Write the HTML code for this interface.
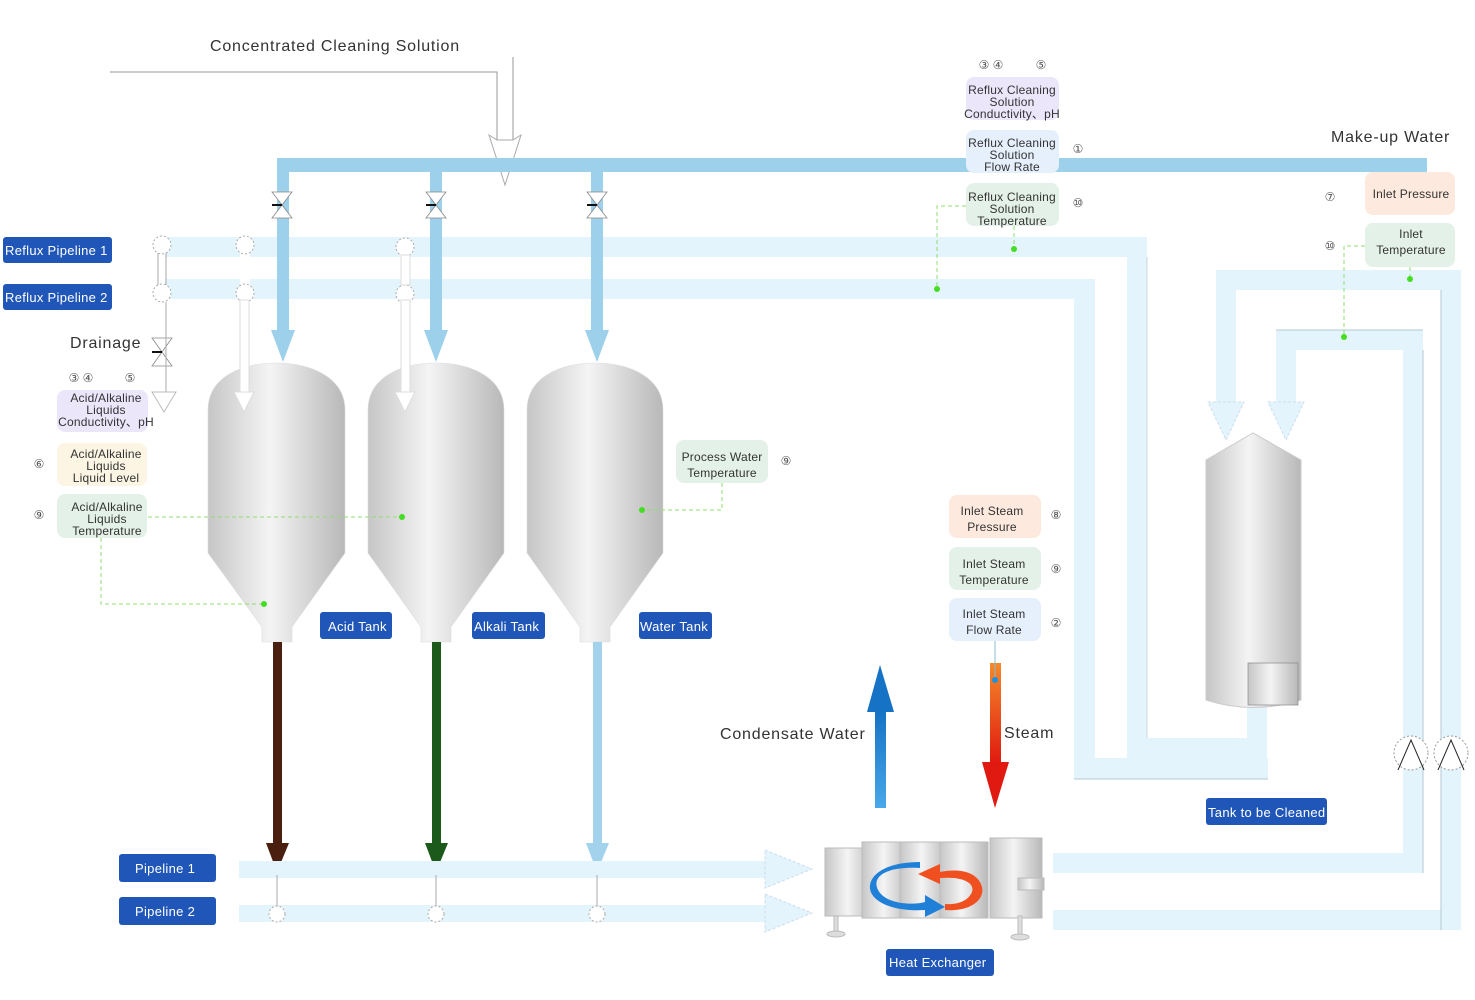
<!DOCTYPE html>
<html><head><meta charset="utf-8"><style>
html,body{margin:0;padding:0;background:#fff}
svg{display:block}
text{font-family:"Liberation Sans","DejaVu Sans",sans-serif}
.lbl{fill:#fff;font-size:13px;letter-spacing:0.3px}
.s{font-size:12px;fill:#333;text-anchor:middle;letter-spacing:0.2px}
.n{font-size:12px;fill:#555;text-anchor:middle}
.big{font-size:16px;fill:#333;letter-spacing:0.8px}
</style></head><body>
<svg width="1475" height="1000" viewBox="0 0 1475 1000" xmlns="http://www.w3.org/2000/svg">
<defs>
<linearGradient id="tk" x1="0" x2="1" y1="0" y2="0">
<stop offset="0" stop-color="#c6c6c6"/><stop offset="0.45" stop-color="#f4f4f4"/><stop offset="1" stop-color="#b8b8b8"/></linearGradient>
<linearGradient id="cw" x1="0" x2="0" y1="1" y2="0"><stop offset="0" stop-color="#48a8e8"/><stop offset="1" stop-color="#1572c4"/></linearGradient>
<linearGradient id="st" x1="0" x2="0" y1="0" y2="1"><stop offset="0" stop-color="#f58a2a"/><stop offset="1" stop-color="#e01a10"/></linearGradient>
</defs>

<text x="210" y="51" class="big">Concentrated Cleaning Solution</text>
<polyline points="110,72 497,72 497,140" fill="none" stroke="#999" stroke-width="1"/>
<line x1="513" y1="57" x2="513" y2="140" stroke="#999"/>
<polygon points="489,135 497,140 513,140 521,135 505,185" fill="#fff" stroke="#aaa"/>

<rect x="277" y="158" width="1150" height="14" fill="#9dd0ea"/>
<text x="1331" y="142" class="big">Make-up Water</text>

<!-- reflux pipelines -->
<rect x="165" y="237" width="982" height="20" fill="#e3f4fc"/>
<rect x="1127" y="237" width="20" height="521" fill="#e3f4fc"/>
<rect x="165" y="279" width="930" height="20" fill="#e3f4fc"/>
<rect x="1074" y="279" width="21" height="500" fill="#e3f4fc"/>
<rect x="1074" y="758" width="194" height="21" fill="#e3f4fc"/>
<rect x="1127" y="738" width="140" height="20" fill="#e3f4fc"/>
<rect x="1247" y="705" width="20" height="74" fill="#e3f4fc"/>
<line x1="1074" y1="779" x2="1268" y2="779" stroke="#b5c8d2"/>
<line x1="1147" y1="257" x2="1147" y2="738" stroke="#c8d8e0"/>

<!-- drops (on top) -->
<g fill="#9dd0ea">
<rect x="277" y="172" width="12" height="160"/><polygon points="271,330 295,330 283,362"/>
<rect x="430" y="172" width="12" height="160"/><polygon points="424,330 448,330 436,362"/>
<rect x="591" y="172" width="12" height="160"/><polygon points="585,330 609,330 597,362"/>
</g>
<g stroke="#888" stroke-width="0.8" fill="#fff">
<polygon points="272,192 292,192 282,205 292,218 272,218 282,205"/>
<polygon points="426,192 446,192 436,205 446,218 426,218 436,205"/>
<polygon points="587,192 607,192 597,205 607,218 587,218 597,205"/>
<polygon points="152,338 172,338 162,352 172,366 152,366 162,352"/>
</g>
<g stroke="#111" stroke-width="2"><line x1="272" y1="205" x2="282" y2="205"/><line x1="426" y1="205" x2="436" y2="205"/><line x1="587" y1="205" x2="597" y2="205"/><line x1="152" y1="352" x2="162" y2="352"/></g>

<g stroke="#aaa" fill="#fff" stroke-dasharray="2,2">
<line x1="158" y1="253" x2="158" y2="285" stroke-dasharray="none"/>
<line x1="166" y1="253" x2="166" y2="285" stroke-dasharray="none"/>
<rect x="240" y="253" width="10" height="32" stroke="none"/>
<circle cx="162" cy="245" r="9"/><circle cx="162" cy="293" r="9"/>
<circle cx="245" cy="245" r="9"/><circle cx="245" cy="293" r="9"/>
<circle cx="405" cy="247" r="9"/><circle cx="405" cy="294" r="9"/>
</g>
<rect x="401" y="255" width="9" height="30" fill="#fff" stroke="#ddd"/>
<line x1="166" y1="302" x2="166" y2="398" stroke="#aaa"/>
<polygon points="152,392 176,392 164,412" fill="#fff" stroke="#bbb"/>
<text x="70" y="348" class="big">Drainage</text>
<rect x="3" y="237" width="109" height="26" rx="3" fill="#1f56b8"/><text x="5" y="255" class="lbl">Reflux Pipeline 1</text>
<rect x="3" y="284" width="109" height="26" rx="3" fill="#1f56b8"/><text x="5" y="302" class="lbl">Reflux Pipeline 2</text>

<!-- tanks -->
<g fill="url(#tk)" stroke="#ddd" stroke-width="0.6">
<path d="M208,410 C208,378 240,363 276,363 C312,363 345,378 345,410 L345,553 L292,627 L292,642 L262,642 L262,627 L208,553 Z"/>
<path d="M368,410 C368,378 400,363 436,363 C472,363 504,378 504,410 L504,553 L451,627 L451,642 L421,642 L421,627 L368,553 Z"/>
<path d="M527,410 C527,378 559,363 595,363 C631,363 663,378 663,410 L663,553 L610,627 L610,642 L580,642 L580,627 L527,553 Z"/>
</g>
<g fill="#fff" stroke="#ddd">
<rect x="240" y="300" width="9" height="95"/><polygon points="234,392 254,392 244,412"/>
<rect x="401" y="300" width="9" height="95"/><polygon points="395,392 415,392 405,412"/>
</g>
<rect x="273" y="642" width="9" height="203" fill="#4a1f10"/><polygon points="266,843 289,843 277,872" fill="#4a1f10"/>
<rect x="432" y="642" width="9" height="203" fill="#1b5a1b"/><polygon points="425,843 448,843 436,872" fill="#1b5a1b"/>
<rect x="593" y="642" width="9" height="203" fill="#a3d2ec"/><polygon points="586,843 609,843 597,872" fill="#a3d2ec"/>

<rect x="320" y="612" width="72" height="27" rx="3" fill="#1f56b8"/><text x="328" y="631" class="lbl">Acid Tank</text>
<rect x="472" y="612" width="73" height="27" rx="3" fill="#1f56b8"/><text x="474" y="631" class="lbl">Alkali Tank</text>
<rect x="639" y="612" width="73" height="27" rx="3" fill="#1f56b8"/><text x="640" y="631" class="lbl">Water Tank</text>

<rect x="239" y="861" width="533" height="17" fill="#e3f4fc"/>
<polygon points="765,850 812,869 765,888" fill="#e3f4fc" stroke="#cde" stroke-dasharray="3,2"/>
<rect x="239" y="905" width="533" height="17" fill="#e3f4fc"/>
<polygon points="765,894 812,913 765,932" fill="#e3f4fc" stroke="#cde" stroke-dasharray="3,2"/>
<g stroke="#aaa" fill="#fff" stroke-dasharray="2,2">
<line x1="277" y1="875" x2="277" y2="907" stroke-dasharray="none"/>
<line x1="436" y1="875" x2="436" y2="907" stroke-dasharray="none"/>
<line x1="597" y1="875" x2="597" y2="907" stroke-dasharray="none"/>
<circle cx="277" cy="914" r="8"/><circle cx="436" cy="914" r="8"/><circle cx="597" cy="914" r="8"/>
</g>
<rect x="119" y="854" width="97" height="28" rx="3" fill="#1f56b8"/><text x="135" y="873" class="lbl" font-size="14">Pipeline 1</text>
<rect x="119" y="897" width="97" height="28" rx="3" fill="#1f56b8"/><text x="135" y="916" class="lbl" font-size="14">Pipeline 2</text>

<rect x="1053" y="853" width="370" height="20" fill="#e3f4fc"/>
<rect x="1403" y="330" width="20" height="543" fill="#e3f4fc"/>
<rect x="1276" y="330" width="147" height="20" fill="#e3f4fc"/>
<rect x="1276" y="330" width="20" height="75" fill="#e3f4fc"/>
<polygon points="1268,402 1304,402 1286,440" fill="#e3f4fc" stroke="#cde" stroke-dasharray="3,2"/>
<rect x="1053" y="910" width="408" height="20" fill="#e3f4fc"/>
<rect x="1441" y="270" width="20" height="660" fill="#e3f4fc"/>
<rect x="1216" y="270" width="245" height="20" fill="#e3f4fc"/>
<rect x="1216" y="270" width="20" height="135" fill="#e3f4fc"/>
<polygon points="1208,402 1244,402 1226,440" fill="#e3f4fc" stroke="#cde" stroke-dasharray="3,2"/>
<line x1="1423" y1="350" x2="1423" y2="873" stroke="#b5c8d2"/>
<line x1="1441" y1="290" x2="1441" y2="930" stroke="#b5c8d2"/>
<line x1="1276" y1="330" x2="1423" y2="330" stroke="#b5c8d2"/>
<g fill="#fff" stroke="#999" stroke-dasharray="2,2"><circle cx="1411" cy="753" r="17"/><circle cx="1451" cy="753" r="17"/></g>
<g fill="none" stroke="#222"><polyline points="1398,770 1411,740 1424,770"/><polyline points="1438,770 1451,740 1464,770"/></g>

<path d="M1206,460 L1253,433 L1301,460 L1301,700 Q1253,715 1206,700 Z" fill="url(#tk)" stroke="#ccc"/>
<rect x="1248" y="663" width="50" height="42" fill="url(#tk)" stroke="#888" stroke-width="0.7"/>
<rect x="1206" y="798" width="121" height="27" rx="3" fill="#1f56b8"/><text x="1208" y="817" class="lbl">Tank to be Cleaned</text>

<g stroke="#bbb" fill="url(#tk)">
<rect x="825" y="848" width="50" height="68"/>
<rect x="862" y="842" width="48" height="76"/>
<rect x="900" y="842" width="48" height="76"/>
<rect x="940" y="842" width="48" height="76"/>
<rect x="990" y="838" width="52" height="80"/>
<rect x="1018" y="878" width="26" height="12"/>
</g>
<g stroke="#bbb" fill="#ddd"><rect x="834" y="916" width="4" height="18"/><rect x="1018" y="916" width="4" height="20"/>
<ellipse cx="836" cy="934" rx="9" ry="3"/><ellipse cx="1020" cy="937" rx="9" ry="3"/></g>
<path d="M920,868 C880,866 870,880 880,893 C890,905 915,905 925,902 L925,895 L945,907 L925,917 L925,910 C890,912 868,900 870,885 C872,872 890,862 920,862 Z" fill="#2080d8"/>
<path d="M940,872 L940,864 L918,874 L940,884 L940,878 C965,876 975,884 972,892 C968,902 955,905 945,904 L945,910 C970,912 985,900 982,887 C978,872 960,868 940,872 Z" fill="#f05020"/>
<rect x="886" y="949" width="108" height="27" rx="3" fill="#1f56b8"/><text x="889" y="967" class="lbl">Heat Exchanger</text>

<rect x="875" y="710" width="11" height="98" fill="url(#cw)"/><polygon points="867,712 894,712 880,665" fill="#1572c4"/>
<text x="720" y="739" class="big">Condensate Water</text>
<rect x="990" y="663" width="11" height="100" fill="url(#st)"/><polygon points="982,762 1009,762 995,808" fill="#e01a10"/>
<text x="1004" y="738" class="big">Steam</text>
<line x1="995" y1="641" x2="995" y2="680" stroke="#8bc"/><circle cx="995" cy="680" r="3" fill="#1e90e0"/>

<g font-size="12">
<rect x="57" y="390" width="91" height="42" rx="8" fill="#ece6fb"/>
<text class="s" x="106" y="402">Acid/Alkaline</text><text class="s" x="106" y="414">Liquids</text><text class="s" x="106" y="426">Conductivity、pH</text>
<rect x="57" y="443" width="90" height="43" rx="8" fill="#fcf5e4"/>
<text class="s" x="106" y="458">Acid/Alkaline</text><text class="s" x="106" y="470">Liquids</text><text class="s" x="106" y="482">Liquid Level</text>
<rect x="57" y="494" width="90" height="44" rx="8" fill="#e4f1e8"/>
<text class="s" x="107" y="511">Acid/Alkaline</text><text class="s" x="107" y="523">Liquids</text><text class="s" x="107" y="535">Temperature</text>
<text class="n" x="81" y="382">③ ④</text><text class="n" x="130" y="382">⑤</text>
<text class="n" x="39" y="468">⑥</text><text class="n" x="39" y="519">⑨</text>

<rect x="966" y="77" width="93" height="43" rx="8" fill="#ece6fb"/>
<text class="s" x="1012" y="94">Reflux Cleaning</text><text class="s" x="1012" y="106">Solution</text><text class="s" x="1012" y="118">Conductivity、pH</text>
<rect x="966" y="130" width="93" height="43" rx="8" fill="#e6f0fc"/>
<text class="s" x="1012" y="147">Reflux Cleaning</text><text class="s" x="1012" y="159">Solution</text><text class="s" x="1012" y="171">Flow Rate</text>
<rect x="966" y="183" width="93" height="43" rx="8" fill="#e4f1e8"/>
<text class="s" x="1012" y="201">Reflux Cleaning</text><text class="s" x="1012" y="213">Solution</text><text class="s" x="1012" y="225">Temperature</text>
<text class="n" x="991" y="69">③ ④</text><text class="n" x="1041" y="69">⑤</text>
<text class="n" x="1078" y="153">①</text><text class="n" x="1078" y="207">⑩</text>

<rect x="1365" y="172" width="90" height="43" rx="8" fill="#fde9dd"/>
<text class="s" x="1411" y="198" font-size="13">Inlet Pressure</text>
<rect x="1365" y="223" width="90" height="44" rx="8" fill="#e4f1e8"/>
<text class="s" x="1411" y="238" font-size="13">Inlet</text><text class="s" x="1411" y="254" font-size="13">Temperature</text>
<text class="n" x="1330" y="201">⑦</text><text class="n" x="1330" y="250">⑩</text>

<rect x="676" y="440" width="92" height="43" rx="8" fill="#e4f1e8"/>
<text class="s" x="722" y="461">Process Water</text><text class="s" x="722" y="477">Temperature</text>
<text class="n" x="786" y="465">⑨</text>

<rect x="949" y="495" width="92" height="43" rx="8" fill="#fde9dd"/>
<text class="s" x="992" y="515" font-size="13">Inlet Steam</text><text class="s" x="992" y="531" font-size="13">Pressure</text>
<rect x="949" y="547" width="92" height="43" rx="8" fill="#e4f1e8"/>
<text class="s" x="994" y="568" font-size="13">Inlet Steam</text><text class="s" x="994" y="584" font-size="13">Temperature</text>
<rect x="949" y="598" width="92" height="43" rx="8" fill="#e6f0fc"/>
<text class="s" x="994" y="618" font-size="13">Inlet Steam</text><text class="s" x="994" y="634" font-size="13">Flow Rate</text>
<text class="n" x="1056" y="519">⑧</text><text class="n" x="1056" y="573">⑨</text><text class="n" x="1056" y="627">②</text>
</g>

<g stroke="#8ee070" stroke-dasharray="4,3" fill="none" stroke-width="1">
<line x1="148" y1="517" x2="402" y2="517"/>
<polyline points="101,538 101,604 264,604"/>
<polyline points="722,483 722,510 642,510"/>
<polyline points="966,206 937,206 937,289"/>
<line x1="1014" y1="226" x2="1014" y2="249"/>
<polyline points="1365,246 1344,246 1344,337"/>
<line x1="1410" y1="267" x2="1410" y2="279"/>
</g>
<g fill="#44dd22"><circle cx="402" cy="517" r="3"/><circle cx="264" cy="604" r="3"/><circle cx="642" cy="510" r="3"/><circle cx="937" cy="289" r="3"/><circle cx="1014" cy="249" r="3"/><circle cx="1344" cy="337" r="3"/><circle cx="1410" cy="279" r="3"/></g>
</svg>
</body></html>
